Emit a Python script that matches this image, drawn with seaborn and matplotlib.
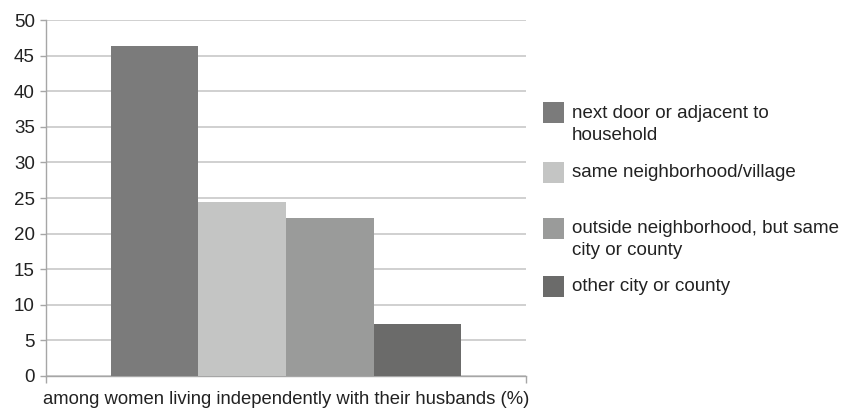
import matplotlib
matplotlib.use("Agg")
import matplotlib.pyplot as plt
import seaborn as sns
import pandas as pd
from matplotlib.patches import Rectangle

group = ["among women living independently with their husbands (%)"]
locations = [
    "next door or adjacent to\nhousehold",
    "same neighborhood/village",
    "outside neighborhood, but same\ncity or county",
    "other city or county",
]
values = [46.3, 24.4, 22.2, 7.3]
colors = ["#7b7b7b", "#c4c5c4", "#9a9b9a", "#6b6b6a"]
yticks = [0, 5, 10, 15, 20, 25, 30, 35, 40, 45, 50]

df = pd.DataFrame({"group": group * len(locations), "location": locations, "value": values})

sns.set_theme(style="white")
plt.rcParams["font.family"] = ["Liberation Sans", "DejaVu Sans"]

W, H = 858, 412
fig = plt.figure(figsize=(W / 100, H / 100), dpi=100)
ax = fig.add_axes([46 / W, 36 / H, 480 / W, 356 / H])

sns.barplot(data=df, x="group", y="value", hue="location", hue_order=locations,
            palette=colors, saturation=1, width=0.73, gap=0, ax=ax, legend=False,
            linewidth=0, edgecolor="none", zorder=3)

ax.set_xlim(-0.5, 0.5)
ax.set_ylim(0, 50)
ax.set_yticks(yticks)
ax.set_yticklabels([str(t) for t in yticks])
ax.yaxis.grid(True, color="#c4c4c4", linewidth=1.1, zorder=0)
ax.set_axisbelow(True)
ax.set_xlabel("")
ax.set_ylabel("")
ax.set_xticks([0])
ax.set_xticklabels(group)
for s in ["top", "right"]:
    ax.spines[s].set_visible(False)
for s in ["left", "bottom"]:
    ax.spines[s].set_color("#a6a6a6")
    ax.spines[s].set_linewidth(1.0)
ax.tick_params(axis="y", length=4, width=1, color="#a6a6a6", labelsize=13.5,
               labelcolor="#222222", pad=4, left=True)
ax.tick_params(axis="x", length=0, labelsize=13.3, labelcolor="#222222", pad=11)
ax.set_xticks([-0.5, 0.5], minor=True)
ax.tick_params(axis="x", which="minor", length=5, width=1, color="#a6a6a6", bottom=True)

# manual legend (Excel style: swatch aligned to first line)
centers = [113, 172, 228, 286]
for loc, col, cy in zip(locations, colors, centers):
    x0, size = 543, 21
    fig.add_artist(Rectangle((x0 / W, 1 - (cy + size / 2) / H), size / W, size / H,
                             transform=fig.transFigure, facecolor=col, edgecolor="none"))
    for i, line in enumerate(loc.split("\n")):
        fig.text(572 / W, 1 - (cy + 5 + 22 * i) / H, line, ha="left", va="baseline",
                 fontsize=13.5, color="#222222")

fig.savefig("out.png", dpi=100, facecolor="white")
